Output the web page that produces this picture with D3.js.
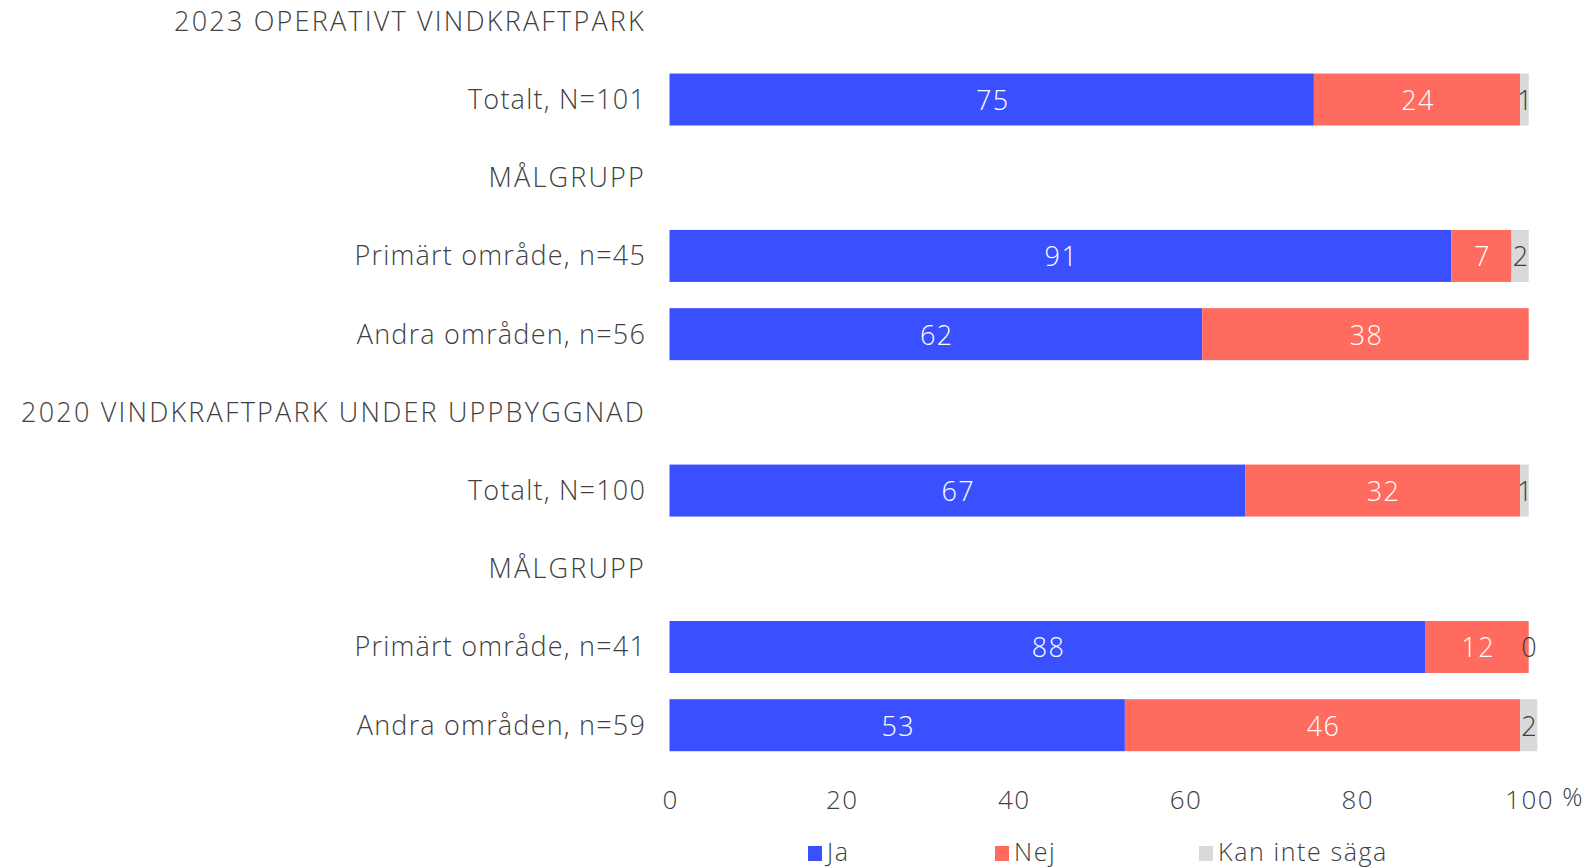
<!DOCTYPE html>
<html>
<head>
<meta charset="utf-8">
<script src="https://cdn.jsdelivr.net/npm/d3@7"></script>
<style>
  body { margin: 0; background: #fff; }
  svg text { font-family: "Open Sans", sans-serif; font-weight: 300; letter-spacing: 1.4px; }
</style>
</head>
<body>
<svg id="chart" width="1588" height="868"></svg>
<script>
// rows from top to bottom; headings have no values
const rows = [
  "2023 OPERATIVT VINDKRAFTPARK",
  "Totalt, N=101",
  "MÅLGRUPP",
  "Primärt område, n=45",
  "Andra områden, n=56",
  "2020 VINDKRAFTPARK UNDER UPPBYGGNAD",
  "Totalt, N=100",
  "MÅLGRUPP ",
  "Primärt område, n=41",
  "Andra områden, n=59"
];
const ja = [null, 75, null, 91, 62, null, 67, null, 88, 53];
const nej = [null, 24, null, 7, 38, null, 32, null, 12, 46];
const kanInte = [null, 1, null, 2, null, null, 1, null, 0, 2];

const seriesNames = ["Ja", "Nej", "Kan inte säga"];
const colors = ["#3a50ff", "#ff6b5e", "#d9d9d9"];
const labelColors = ["#ffffff", "#ffffff", "#404040"];
const ticks = [0, 20, 40, 60, 80, 100];

const svg = d3.select("#chart");
const textColor = "#404040";
const barHeight = 52;
const fontSize = "27px";

const x = d3.scaleLinear().domain([0, 100]).range([669.5, 1528.7]);
const y = d3.scalePoint().domain(rows).range([21.3, 725.2]);

const isHeading = (i) => ja[i] === null;

// row labels
svg.append("g")
  .selectAll("text")
  .data(rows)
  .join("text")
  .attr("x", 646)
  .attr("y", (d) => y(d))
  .attr("dy", "0.35em")
  .attr("text-anchor", "end")
  .style("font-size", fontSize)
  .style("letter-spacing", (d, i) => (isHeading(i) ? "2.2px" : "1.2px"))
  .style("fill", textColor)
  .text((d) => d.trim());

// stacked segments
const table = rows.map((r, i) => ({ row: r, values: [ja[i], nej[i], kanInte[i]] }));
const segments = [];
table.forEach((d) => {
  let start = 0;
  d.values.forEach((v, k) => {
    if (v === null) return;
    segments.push({ row: d.row, k: k, x0: start, x1: start + v, value: v });
    start += v;
  });
});

const bars = svg.append("g");
bars.selectAll("rect")
  .data(segments)
  .join("rect")
  .attr("x", (d) => x(d.x0))
  .attr("y", (d) => y(d.row) - barHeight / 2)
  .attr("width", (d) => x(d.x1) - x(d.x0))
  .attr("height", barHeight)
  .style("fill", (d) => colors[d.k]);

bars.selectAll("text")
  .data(segments)
  .join("text")
  .attr("x", (d) => (x(d.x0) + x(d.x1)) / 2 + 1)
  .attr("y", (d) => y(d.row) + 1)
  .attr("dy", "0.35em")
  .attr("text-anchor", "middle")
  .style("font-size", fontSize)
  .style("fill", (d) => labelColors[d.k])
  .text((d) => d.value);

// x axis labels
svg.append("g")
  .selectAll("text")
  .data(ticks)
  .join("text")
  .attr("x", (d) => x(d) + 1)
  .attr("y", 800)
  .attr("dy", "0.35em")
  .attr("text-anchor", "middle")
  .style("font-size", "26px")
  .style("fill", textColor)
  .text((d) => d);

svg.append("text")
  .attr("x", 1573)
  .attr("y", 797)
  .attr("dy", "0.35em")
  .attr("text-anchor", "middle")
  .style("font-size", "25px")
  .style("fill", textColor)
  .text("%");

// legend
const legendX = [808, 995, 1199];
const legend = svg.append("g")
  .selectAll("g")
  .data(seriesNames)
  .join("g")
  .attr("transform", (d, i) => "translate(" + legendX[i] + ", 852)");

legend.append("rect")
  .attr("x", 0)
  .attr("y", -6)
  .attr("width", 14)
  .attr("height", 15)
  .style("fill", (d, i) => colors[i]);

legend.append("text")
  .attr("x", 19)
  .attr("y", 0)
  .attr("dy", "0.35em")
  .style("font-size", "25px")
  .style("letter-spacing", "1.6px")
  .style("fill", textColor)
  .text((d) => d);
</script>
</body>
</html>
